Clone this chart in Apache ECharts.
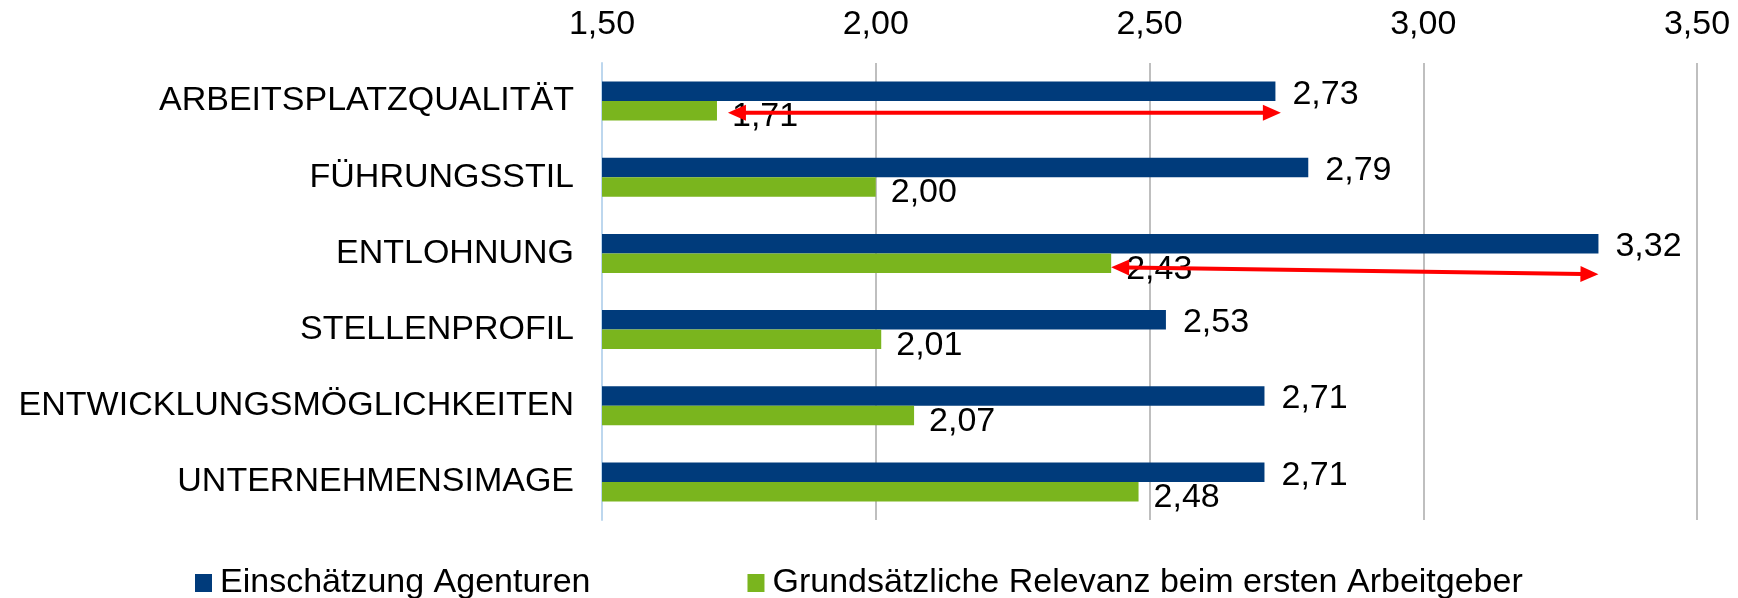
<!DOCTYPE html>
<html>
<head>
<meta charset="utf-8">
<script src="https://cdn.jsdelivr.net/npm/echarts@6/dist/echarts.min.js"></script>
<style>
html,body{margin:0;padding:0;background:#fff;}
#chart{width:1738px;height:598px;}
</style>
</head>
<body>
<div id="chart"></div>
<script>
// ---- data ----
const categories = ['ARBEITSPLATZQUALITÄT', 'FÜHRUNGSSTIL', 'ENTLOHNUNG', 'STELLENPROFIL', 'ENTWICKLUNGSMÖGLICHKEITEN', 'UNTERNEHMENSIMAGE'];
const seriesNames = ['Einschätzung Agenturen', 'Grundsätzliche Relevanz beim ersten Arbeitgeber'];
const agenturen = [2.73, 2.79, 3.32, 2.53, 2.71, 2.71];
const relevanz = [1.71, 2.00, 2.43, 2.01, 2.07, 2.48];
const xTicks = [1.50, 2.00, 2.50, 3.00, 3.50];
const arrowCategory = ['ARBEITSPLATZQUALITÄT', 'ENTLOHNUNG'];
const arrowFrom = [1.73, 2.43];
const arrowTo = [2.74, 3.32];

// ---- styles ----
const FONT = '"Liberation Sans", Arial, sans-serif';
const BLUE = '#003B7B';
const GREEN = '#7AB51E';
const RED = '#FF0000';
const BAR_W = 19.5;
const ARROW_DY = [[2, 2], [4, 11]]; // vertical nudge of arrow ends relative to the green bar centre
const fmt = v => Number(v).toFixed(2).replace('.', ',');

const chart = echarts.init(document.getElementById('chart'), null, {renderer: 'canvas'});

const arrowData = arrowCategory.map((c, i) => [categories.indexOf(c), arrowFrom[i], arrowTo[i], i]);

function head(tip, dir, L, W) {
  const bx = tip[0] - dir[0] * L, by = tip[1] - dir[1] * L;
  const nx = -dir[1], ny = dir[0];
  return [[tip[0], tip[1]], [bx + nx * W, by + ny * W], [bx - nx * W, by - ny * W]];
}

const option = {
  animation: false,
  backgroundColor: '#fff',
  grid: {left: 602, right: 41, top: 63, height: 457, containLabel: false},
  xAxis: {
    type: 'value',
    position: 'top',
    min: xTicks[0],
    max: xTicks[xTicks.length - 1],
    interval: 0.5,
    axisLine: {show: false},
    axisTick: {show: false},
    axisLabel: {
      margin: 21,
      color: '#000',
      fontSize: 34,
      fontFamily: FONT,
      formatter: v => fmt(v)
    },
    splitLine: {show: true, lineStyle: {color: '#BFBFBF', width: 2}}
  },
  yAxis: {
    type: 'category',
    inverse: true,
    data: categories,
    axisLine: {show: true, lineStyle: {color: '#BDD7EE', width: 2}},
    axisTick: {show: false},
    axisLabel: {margin: 28, color: '#000', fontSize: 34, fontFamily: FONT, padding: [6, 0, 0, 0]}
  },
  legend: {
    left: 190,
    top: 561,
    itemWidth: 17,
    itemHeight: 18,
    itemGap: 157,
    icon: 'rect',
    textStyle: {color: '#000', fontSize: 34, fontFamily: FONT, padding: [0, 0, 0, 3]},
    data: seriesNames
  },
  series: [
    {
      name: seriesNames[0],
      type: 'bar',
      data: agenturen,
      barWidth: BAR_W,
      barGap: '0%',
      itemStyle: {color: BLUE},
      label: {
        show: true, position: 'right', distance: 17, offset: [0, 3],
        color: '#000', fontSize: 34, fontFamily: FONT,
        formatter: p => fmt(p.value)
      },
      z: 2
    },
    {
      name: seriesNames[1],
      type: 'bar',
      data: relevanz,
      barWidth: BAR_W,
      barGap: '0%',
      itemStyle: {color: GREEN},
      label: {
        show: true, position: 'right', distance: 15, offset: [0, 6],
        color: '#000', fontSize: 34, fontFamily: FONT,
        formatter: p => fmt(p.value)
      },
      z: 2
    },
    {
      type: 'custom',
      name: 'arrows',
      silent: true,
      z: 10,
      data: arrowData,
      encode: {x: [1, 2], y: 0},
      renderItem: function (params, api) {
        const cat = api.value(0);
        const idx = api.value(3);
        const dy = ARROW_DY[idx];
        const p1 = api.coord([api.value(1), cat]);
        const p2 = api.coord([api.value(2), cat]);
        const base = BAR_W / 2;
        const a = [p1[0], p1[1] + base + dy[0]];
        const b = [p2[0], p2[1] + base + dy[1]];
        const len = Math.hypot(b[0] - a[0], b[1] - a[1]);
        const d = [(b[0] - a[0]) / len, (b[1] - a[1]) / len];
        const L = 18, W = 8;
        return {
          type: 'group',
          children: [
            {type: 'line', shape: {x1: a[0] + d[0] * (L - 2), y1: a[1] + d[1] * (L - 2), x2: b[0] - d[0] * (L - 2), y2: b[1] - d[1] * (L - 2)},
             style: {stroke: RED, lineWidth: 4}},
            {type: 'polygon', shape: {points: head(a, [-d[0], -d[1]], L, W)}, style: {fill: RED}},
            {type: 'polygon', shape: {points: head(b, d, L, W)}, style: {fill: RED}}
          ]
        };
      }
    }
  ]
};
chart.setOption(option);
</script>
</body>
</html>
